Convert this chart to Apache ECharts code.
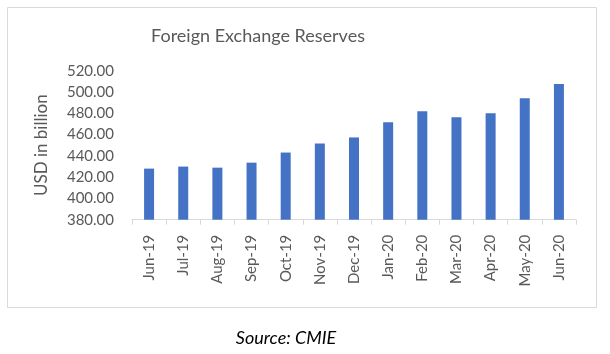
<!DOCTYPE html>
<html>
<head>
<meta charset="utf-8">
<script src="https://cdn.jsdelivr.net/npm/echarts@6/dist/echarts.min.js"></script>
<style>html,body{margin:0;padding:0;background:#fff;}#c{width:610px;height:354px;}</style>
</head>
<body>
<div id="c"></div>
<script>
var categories = ['Jun-19','Jul-19','Aug-19','Sep-19','Oct-19','Nov-19','Dec-19','Jan-20','Feb-20','Mar-20','Apr-20','May-20','Jun-20'];
var reserves = [428.0, 429.9, 428.9, 433.6, 443.1, 451.6, 457.3, 471.5, 481.9, 476.3, 480.0, 494.2, 507.4];
var titleText = 'Foreign Exchange Reserves';
var yAxisName = 'USD in billion';
var sourceText = 'Source: CMIE';

var chart = echarts.init(document.getElementById('c'));
var font = 'Lato, "Open Sans", sans-serif';
chart.setOption({
  animation: false,
  textStyle: { fontFamily: font },
  graphic: [
    { type: 'rect', shape: { x: 7.5, y: 7.5, width: 589, height: 300 },
      style: { fill: 'none', stroke: '#d9d9d9', lineWidth: 1 }, silent: true },
    { type: 'text', x: 258, y: 36,
      style: { text: titleText, font: '18px ' + font, fill: '#595959', align: 'center', verticalAlign: 'middle' } },
    { type: 'text', x: 286, y: 338,
      style: { text: sourceText, font: 'italic 18px ' + font, fill: '#000', align: 'center', verticalAlign: 'middle' } }
  ],
  grid: { left: 132, right: 34, top: 70.7, bottom: 134.3, containLabel: false },
  xAxis: {
    type: 'category', data: categories,
    axisLine: { lineStyle: { color: '#d9d9d9', width: 1 } },
    axisTick: { show: true, length: 5, lineStyle: { color: '#d9d9d9' } },
    axisLabel: { rotate: 90, color: '#595959', fontSize: 15, fontFamily: font, margin: 15, interval: 0 }
  },
  yAxis: {
    type: 'value', min: 380, max: 520, interval: 20,
    name: yAxisName, nameLocation: 'middle', nameGap: 82, nameRotate: 90,
    nameTextStyle: { color: '#595959', fontSize: 17, fontFamily: font },
    axisLine: { show: false }, axisTick: { show: false },
    splitLine: { show: false },
    axisLabel: { color: '#595959', fontSize: 15, fontFamily: font, margin: 18,
      formatter: function (v) { return v.toFixed(2); } }
  },
  series: [{
    type: 'bar', data: reserves, barWidth: 10,
    itemStyle: { color: '#4472C4' }
  }]
});
</script>
</body>
</html>
